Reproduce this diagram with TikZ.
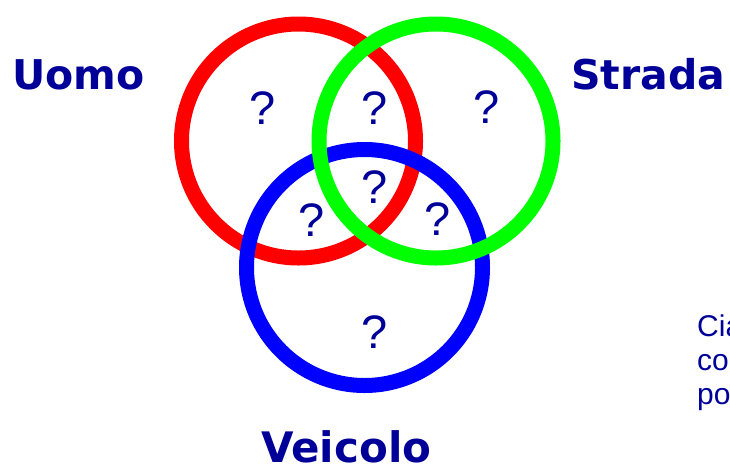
\documentclass[tikz,border=0pt]{standalone}
\usepackage{fontspec}
\setmainfont{Liberation Sans}
\newfontfamily\labelfont{DejaVu Sans}
\usetikzlibrary{positioning}
\definecolor{navy}{RGB}{0,0,153}
\definecolor{ringred}{RGB}{255,0,0}
\definecolor{ringgreen}{RGB}{0,255,0}
\definecolor{ringblue}{RGB}{0,0,255}

\begin{document}
\begin{tikzpicture}[x=1pt,y=-1pt,
    ring/.style={line width=15pt},
    qmark/.style={inner sep=0pt,text=navy,font=\fontsize{47}{47}\selectfont},
    setlabel/.style={inner sep=0pt,text=navy,font=\labelfont\bfseries\fontsize{41}{41}\selectfont},
    note/.style={inner sep=0pt,anchor=base west,text=navy,font=\fontsize{30}{30}\selectfont}]
    \useasboundingbox (0,0) rectangle (730,469);
    \clip (0,0) rectangle (730,469);
    % rings: red under blue, blue under green
    \draw[ring,ringred] (298.5,141) circle[radius=117];
    \draw[ring,ringblue] (364.5,267.5) circle[radius=118];
    \draw[ring,ringgreen] (436,141) circle[radius=117];
    % question marks in each region
    \node[qmark] (qU) at (263,108) {?};
    \node[qmark] (qUS) at (375,108) {?};
    \node[qmark] (qS) at (487,107) {?};
    \node[qmark] (qUSV) at (375,187) {?};
    \node[qmark] (qUV) at (312,220) {?};
    \node[qmark] (qSV) at (438,219) {?};
    \node[qmark] (qV) at (375,332) {?};
    % set names
    \node[setlabel,anchor=base west] (uomo) at (12,89) {Uomo};
    \node[setlabel,anchor=base west] (strada) at (571,89) {Strada};
    \node[setlabel,anchor=base west,font=\labelfont\bfseries\fontsize{42}{42}\selectfont] (veicolo) at (261,462) {Veicolo};
    % side note, cut at the right edge
    \node[note] (noteA) at (697,336) {Cia};
    \node[note] (noteB) at (697,370) {co};
    \node[note] (noteC) at (697,404) {po};
\end{tikzpicture}
\end{document}
